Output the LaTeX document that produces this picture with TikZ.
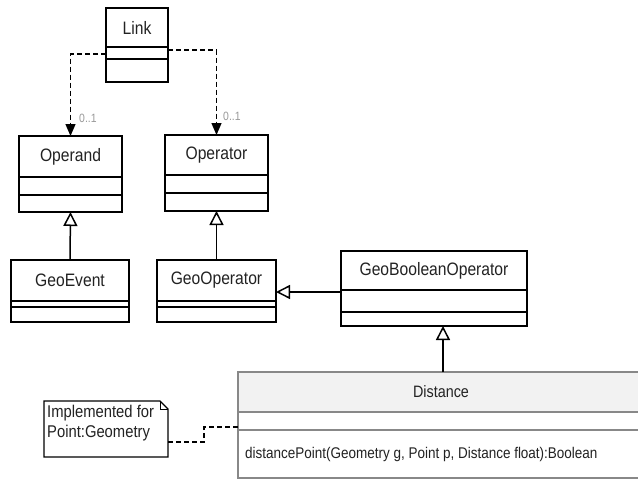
\documentclass[tikz,border=0pt]{standalone}
\usepackage{fontspec}
\setmainfont[FakeStretch=0.87]{Liberation Sans}
\usetikzlibrary{arrows.meta,calc}
\definecolor{txt}{HTML}{222222}
\definecolor{lbl}{HTML}{999999}
\definecolor{gborder}{HTML}{888888}
\definecolor{gfill}{HTML}{F2F2F2}
\tikzset{
  cls/.style={draw=black, line width=1.4pt, fill=white, inner sep=0pt, outer sep=0pt, rectangle},
  ttl/.style={text=txt, inner sep=0pt, font=\fontsize{18}{20}\selectfont},
  divl/.style={draw=black, line width=1.4pt},
  dep/.style={draw=black, line width=1.2pt, dash pattern=on 5pt off 3pt, -{Triangle[length=12pt,width=10pt]}},
  inh/.style={draw=black, line width=1.5pt, -{Triangle[open,length=14pt,width=14pt,fill=white]}},
  notelink/.style={draw=black, line width=1.2pt, dash pattern=on 5pt off 3pt},
  mult/.style={text=lbl, inner sep=0pt, font=\fontsize{12}{14}\selectfont, anchor=west},
}
\newcommand\umlbox[8]{%
  \node[cls, minimum width=#4pt, minimum height=#5pt, anchor=north west] (#1) at (#2,#3) {};
  \node[ttl] (#1-t) at ($(#1.north)+(0,#6/2)$) {#8};
  \draw[divl] ($(#1.north west)+(0,#6)$) -- ($(#1.north east)+(0,#6)$);
  \draw[divl] ($(#1.north west)+(0,#7)$) -- ($(#1.north east)+(0,#7)$);
}
\begin{document}
\begin{tikzpicture}[x=1pt,y=-1pt]
\useasboundingbox (0,0) rectangle (638,479);
\fill[white] (0,0) rectangle (638,479);

\umlbox{link}{106}{8}{62}{74}{39}{51}{Link}
\umlbox{operand}{19}{136}{103}{76}{41}{59}{Operand}
\umlbox{operator}{165}{135}{103}{76}{40}{58}{Operator}
\umlbox{geoevent}{11}{260}{118}{62}{41}{47}{GeoEvent}
\umlbox{geooperator}{157}{260}{119}{62}{41}{47}{GeoOperator}
\umlbox{gbo}{341}{251}{186}{75}{39}{61}{GeoBooleanOperator}

% Distance class
\node[draw=gborder, line width=2pt, fill=white, inner sep=0pt, outer sep=0pt,
      minimum width=410pt, minimum height=106pt, anchor=north west] (distance) at (238,372) {};
\fill[gfill] ($(distance.north west)+(1,1)$) rectangle ($(distance.north east)+(-1,40)$);
\draw[gborder, line width=2pt] (distance.north west) -- (distance.north east);
\draw[gborder, line width=2pt] ($(distance.north west)+(0,40)$) -- ($(distance.north east)+(0,40)$);
\draw[gborder, line width=2pt] ($(distance.north west)+(0,58)$) -- ($(distance.north east)+(0,58)$);
\node[text=txt, inner sep=0pt, font=\fontsize{16.5}{18}\selectfont] (distance-t) at (441,392) {Distance};
\node[text=txt, inner sep=0pt, anchor=west, font=\fontsize{15.5}{18}\selectfont] (method) at (245,454)
  {distancePoint(Geometry g, Point p, Distance float):Boolean};

% Note
\node[inner sep=0pt, outer sep=0pt, minimum width=124pt, minimum height=56pt, anchor=north west] (note) at (44,401) {};
\draw[black, line width=1.2pt, fill=white] (note.north west) -- ($(note.north east)+(-8,0)$) -- ($(note.north east)+(0,8)$)
   -- (note.south east) -- (note.south west) -- cycle;
\draw[black, line width=1pt] ($(note.north east)+(-8,0)$) -- ($(note.north east)+(-8,8)$) -- ($(note.north east)+(0,8)$);
\node[text=txt, inner sep=0pt, anchor=north west, align=left, font=\fontsize{17}{20}\selectfont] (note-t) at (47,405)
  {Implemented for\\Point:Geometry};

% coordinates for connector positions
\coordinate (yl) at (0,54);
\coordinate (yr) at (0,50);
\coordinate (yg) at (0,292);
\coordinate (xa) at (443,0);
\coordinate (yn) at (0,442);
\coordinate (yd) at (0,427);
\coordinate (bend) at (204,0);

% dependencies from Link
\draw[dep] (link.west |- yl) -| (operand.north);
\draw[dep] (link.east |- yr) -| (operator.north);
\node[mult] (m1) at (79,118) {0..1};
\node[mult] (m2) at (223,116) {0..1};

% inheritance
\draw[inh] (geoevent.north) -- (operand.south);
\draw[inh] (geooperator.north) -- (operator.south);
\draw[inh] (gbo.west |- yg) -- (geooperator.east |- yg);
\draw[inh] (distance.north -| xa) -- (gbo.south -| xa);

% note link
\draw[notelink] (note.east |- yn) -- (bend |- yn) -- (bend |- yd) -- (distance.west |- yd);
\end{tikzpicture}
\end{document}
